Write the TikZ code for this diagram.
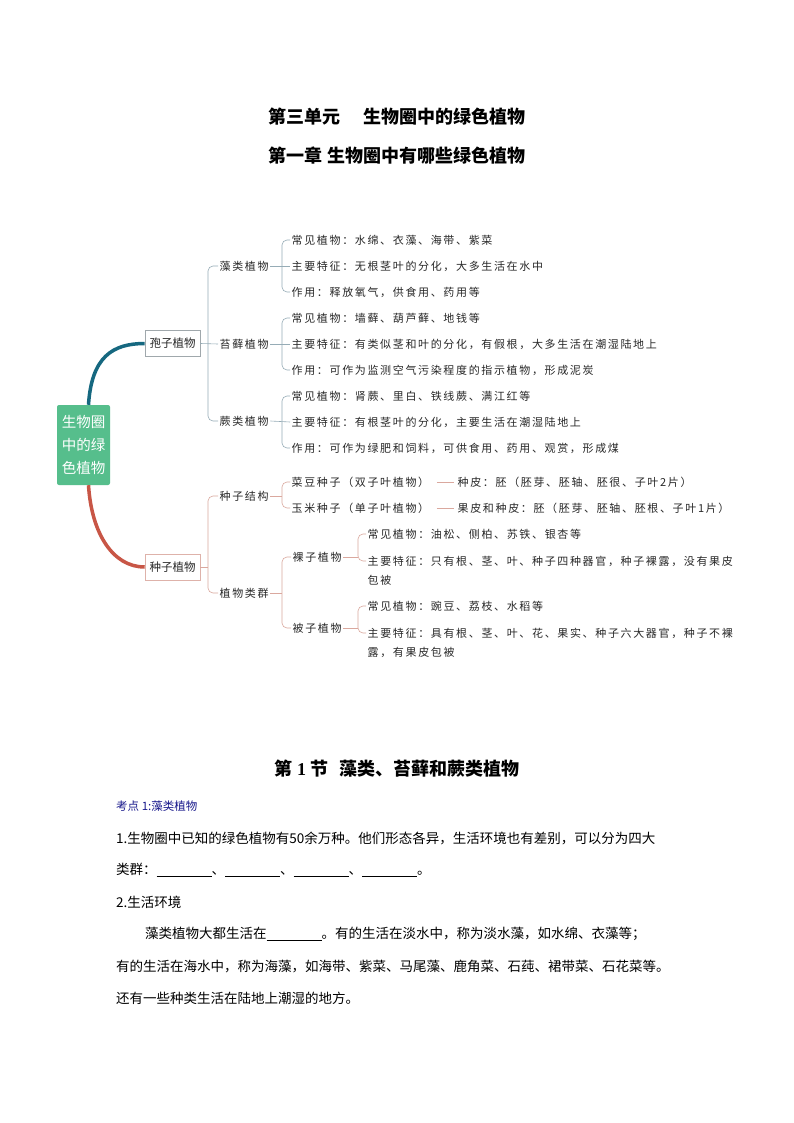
\documentclass[tikz,border=0pt]{standalone}
\usepackage{fontspec}
\newfontfamily\cjk{Noto Sans CJK SC}
\newfontfamily\cjkls[LetterSpace=15]{Noto Sans CJK SC}
\newfontfamily\lser{Liberation Serif}
\usetikzlibrary{calc}
\definecolor{bluethick}{RGB}{22,104,128}
\definecolor{bluel}{RGB}{150,172,182}
\definecolor{redthick}{RGB}{200,86,70}
\definecolor{redl}{RGB}{218,168,158}
\definecolor{rootgreen}{RGB}{86,190,140}
\definecolor{boxb}{RGB}{160,168,172}
\definecolor{boxr}{RGB}{222,178,170}
\definecolor{txt}{RGB}{40,40,40}
\definecolor{navy}{RGB}{25,25,140}
\newcommand{\myblank}{\rule[-2pt]{55pt}{0.6pt}}
\tikzset{
  leaf/.style={anchor=west, inner xsep=1.5pt, inner ysep=1pt, text=txt,
    font=\cjkls\fontsize{11}{13}\selectfont},
  boxnode/.style={minimum width=55pt, minimum height=26pt, inner sep=0pt, text=txt,
    font=\cjk\fontsize{11.5}{13}\selectfont, line width=0.6pt},
  bbr/.style={draw=bluel, line width=0.6pt, rounded corners=5pt},
  rbr/.style={draw=redl, line width=0.6pt, rounded corners=5pt},
  ttl/.style={font=\cjk\bfseries\fontsize{18}{20}\selectfont, text=black, inner sep=0pt},
  body/.style={anchor=west, inner sep=0pt, text=black, font=\cjk\fontsize{13.5}{16}\selectfont},
}
\begin{document}
\begin{tikzpicture}[x=1pt,y=-1pt]
\useasboundingbox (0,0) rectangle (794,1123);
\fill[white] (0,0) rectangle (794,1123);

% titles
\node[ttl] (t1) at (397,117) {第三单元\hspace{1.3em}生物圈中的绿色植物};
\node[ttl] (t2) at (397,156) {第一章 生物圈中有哪些绿色植物};

% root
\node[fill=rootgreen, rounded corners=2pt, minimum width=53pt, minimum height=80pt,
  align=center, text=white, inner sep=0pt,
  font=\cjk\fontsize{14.5}{23}\selectfont] (root) at (83.5,445) {生物圈\\中的绿\\色植物};

% spore plants
\node[boxnode, draw=boxb] (bz) at (172.5,343.5) {孢子植物};
\draw[bluethick, line width=3.5pt] ([xshift=5pt]root.north) .. controls +(3,-48) and +(-32,0) .. (bz.west);

\coordinate (b1) at (208,0);
\coordinate (b2) at (282,0);
\coordinate (b3) at (358,0);

\node[leaf] (zl) at (218,266) {藻类植物};
\node[leaf] (tx) at (218,344) {苔藓植物};
\node[leaf] (jl) at (218,421) {蕨类植物};
\draw[bbr] (zl.west) -- (zl.west -| b1) -- (jl.west -| b1) -- (jl.west);
\draw[bbr] (bz.east) -- (tx.west);

\node[leaf] (z1) at (290,240) {常见植物：水绵、衣藻、海带、紫菜};
\node[leaf] (z2) at (290,266) {主要特征：无根茎叶的分化，大多生活在水中};
\node[leaf] (z3) at (290,292) {作用：释放氧气，供食用、药用等};
\draw[bbr] (z1.west) -- (z1.west -| b2) -- (z3.west -| b2) -- (z3.west);
\draw[bbr] (zl.east) -- (z2.west);

\node[leaf] (x1) at (290,318) {常见植物：墙藓、葫芦藓、地钱等};
\node[leaf] (x2) at (290,344) {主要特征：有类似茎和叶的分化，有假根，大多生活在潮湿陆地上};
\node[leaf] (x3) at (290,370) {作用：可作为监测空气污染程度的指示植物，形成泥炭};
\draw[bbr] (x1.west) -- (x1.west -| b2) -- (x3.west -| b2) -- (x3.west);
\draw[bbr] (tx.east) -- (x2.west);

\node[leaf] (j1) at (290,396) {常见植物：肾蕨、里白、铁线蕨、满江红等};
\node[leaf] (j2) at (290,422) {主要特征：有根茎叶的分化，主要生活在潮湿陆地上};
\node[leaf] (j3) at (290,448) {作用：可作为绿肥和饲料，可供食用、药用、观赏，形成煤};
\draw[bbr] (j1.west) -- (j1.west -| b2) -- (j3.west -| b2) -- (j3.west);
\draw[bbr] (jl.east) -- (j2.west);

% seed plants
\node[boxnode, draw=boxr] (zz) at (172.5,567) {种子植物};
\draw[redthick, line width=3.5pt] ([xshift=5pt]root.south) .. controls +(3,48) and +(-32,0) .. (zz.west);

\node[leaf] (jg) at (218,496) {种子结构};
\node[leaf] (lq) at (218,593) {植物类群};
\draw[rbr] (jg.west) -- (jg.west -| b1) -- (lq.west -| b1) -- (lq.west);
\draw[rbr] (zz.east) -- (zz.east -| b1);

\node[leaf] (cd) at (290,482) {菜豆种子（双子叶植物）};
\node[leaf] (ym) at (290,508) {玉米种子（单子叶植物）};
\draw[rbr] (cd.west) -- (cd.west -| b2) -- (ym.west -| b2) -- (ym.west);
\draw[rbr] (jg.east) -- (jg.east -| b2);

\node[leaf] (zp) at (456,482) {种皮：胚（胚芽、胚轴、胚很、子叶2片）};
\node[leaf] (gp) at (456,508) {果皮和种皮：胚（胚芽、胚轴、胚根、子叶1片）};
\draw[redl, line width=0.8pt, shorten <=6pt, shorten >=2pt] (cd.east) -- (zp.west);
\draw[redl, line width=0.8pt, shorten <=6pt, shorten >=2pt] (ym.east) -- (gp.west);

\node[leaf] (lz) at (291,557) {裸子植物};
\node[leaf] (bzw) at (291,628) {被子植物};
\draw[rbr] (lz.west) -- (lz.west -| b2) -- (bzw.west -| b2) -- (bzw.west);
\draw[rbr] (lq.east) -- (lq.east -| b2);

\node[leaf] (l1) at (366,534) {常见植物：油松、侧柏、苏铁、银杏等};
\node[leaf] (l2) at (366,561) {主要特征：只有根、茎、叶、种子四种器官，种子裸露，没有果皮};
\node[leaf] (l2c) at (366,580) {包被};
\draw[rbr] (l1.west) -- (l1.west -| b3) -- (l2.west -| b3) -- (l2.west);
\draw[rbr] (lz.east) -- (lz.east -| b3);

\node[leaf] (m1) at (366,606) {常见植物：豌豆、荔枝、水稻等};
\node[leaf] (m2) at (366,633) {主要特征：具有根、茎、叶、花、果实、种子六大器官，种子不裸};
\node[leaf] (m2c) at (366,652) {露，有果皮包被};
\draw[rbr] (m1.west) -- (m1.west -| b3) -- (m2.west -| b3) -- (m2.west);
\draw[rbr] (bzw.east) -- (bzw.east -| b3);

% section
\node[ttl] (t3) at (397,769) {第 {\lser\bfseries 1} 节\hspace{0.6em}藻类、苔藓和蕨类植物};
\node[anchor=west, inner sep=0pt, text=navy, font=\cjk\fontsize{11.5}{13}\selectfont] (kd) at (116,806) {考点 1:藻类植物};

\node[body] (p1) at (116,838) {1.生物圈中已知的绿色植物有50余万种。他们形态各异，生活环境也有差别，可以分为四大};
\node[body] (p2) at (116,870) {类群：\myblank、\myblank、\myblank、\myblank。};
\node[body] (p3) at (116,902) {2.生活环境};
\node[body] (p4) at (145,934) {藻类植物大都生活在\myblank。有的生活在淡水中，称为淡水藻，如水绵、衣藻等；};
\node[body] (p5) at (116,966) {有的生活在海水中，称为海藻，如海带、紫菜、马尾藻、鹿角菜、石莼、裙带菜、石花菜等。};
\node[body] (p6) at (116,998) {还有一些种类生活在陆地上潮湿的地方。};
\end{tikzpicture}
\end{document}
